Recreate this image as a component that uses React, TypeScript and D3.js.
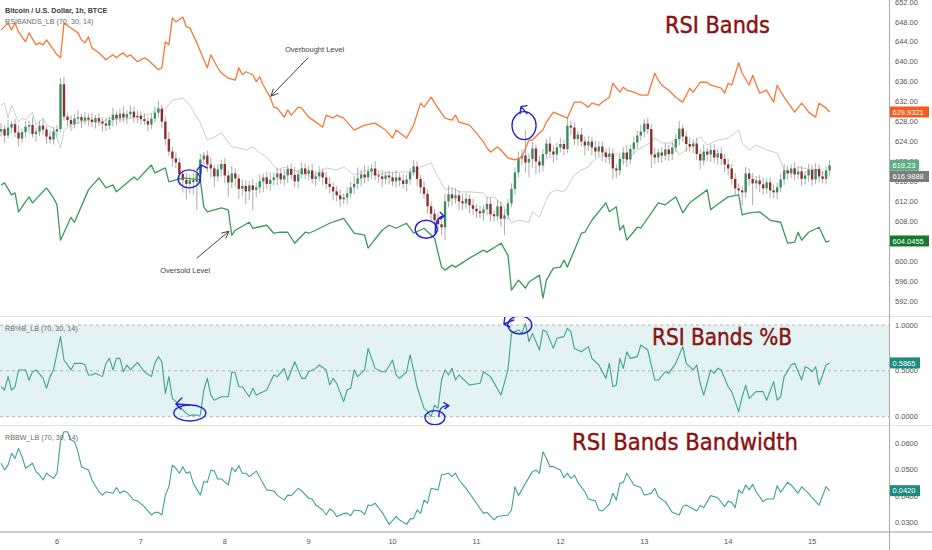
import React from 'react';
import * as d3 from 'd3';

// ---------- DATA ----------
// hours relative to 6th 00:00, one candle per hour
const dayLabels = ['6', '7', '8', '9', '10', '11', '12', '13', '14', '15'];
const firstHour = -16;
const firstOpen = 626.0;
const closes = [
  626.5, 625.2, 626.8, 627.5, 625.8, 624.6, 625.9, 627.0, 627.3, 625.5, 626.0, 627.2, 626.4, 625.0, 624.4, 626.0,
  626.5, 635.5, 629.0, 628.3, 627.5, 628.6, 628.9, 628.2, 628.8, 628.4, 627.9, 628.7, 628.0, 627.6, 627.2, 628.3, 629.4, 628.6, 629.6, 628.8, 629.5, 630.0, 628.9, 629.2,
  628.5, 628.1, 627.4, 628.6, 629.8, 630.6, 628.0, 624.5, 622.0, 620.6, 619.8, 617.5, 616.3, 615.5, 616.2, 615.9, 617.5, 620.4, 621.2, 619.4, 618.6, 617.0, 618.4, 619.5,
  617.2, 615.8, 617.6, 616.6, 614.5, 615.1, 614.0, 615.2, 614.3, 614.8, 616.0, 616.8, 615.5, 616.3, 616.8, 617.6, 616.4, 617.2, 618.5, 617.3, 616.0, 617.4, 618.6, 617.5,
  618.2, 616.5, 617.0, 617.8, 616.8, 615.5, 614.9, 614.0, 613.2, 612.4, 612.8, 613.6, 614.8, 615.5, 616.6, 617.4, 616.8, 618.0, 618.6, 617.2, 617.0, 616.5, 617.2, 616.8,
  616.0, 616.8, 616.2, 615.5, 616.4, 617.8, 619.0, 616.5, 614.8, 613.5, 611.0, 609.5, 608.2, 607.4, 606.8, 612.0, 613.4, 612.6, 613.2, 612.0, 611.6, 612.5, 611.2, 610.5,
  610.0, 609.6, 610.4, 611.5, 609.4, 609.0, 611.0, 608.5, 609.2, 611.6, 614.5, 617.8, 620.6, 621.2, 619.8, 620.5, 622.6, 620.0, 619.2, 621.5, 623.6, 622.0, 621.4, 622.8,
  623.5, 622.5, 627.2, 626.8, 624.5, 625.4, 624.0, 623.2, 624.0, 622.8, 622.0, 623.0, 621.8, 620.9, 621.6, 618.6, 618.2, 620.5, 621.8, 620.4, 622.5, 623.8, 625.2, 626.0,
  627.6, 626.5, 621.4, 620.8, 621.8, 621.2, 622.4, 621.5, 622.8, 624.5, 626.6, 625.0, 623.5, 623.0, 623.6, 621.5, 620.2, 622.0, 621.4, 622.3, 620.8, 621.6, 620.5, 619.4,
  618.6, 616.5, 614.6, 614.2, 613.8, 617.6, 616.5, 615.6, 616.2, 615.4, 614.6, 615.8, 614.2, 613.8, 614.8, 616.4, 618.2, 617.6, 618.6, 617.4, 618.0, 616.5, 617.2, 618.3,
  616.4, 618.5, 617.0, 616.5, 618.2, 619.23,
];
const upperWicks = [
  1.2, 0.8, 1.5, 0.6, 1.0, 1.4, 0.7, 1.1, 0.9, 1.6, 0.8, 1.0, 1.3, 0.6, 1.2, 0.9,
  0.8, 1.2, 1.5, 0.6, 1.0, 0.9, 1.4, 0.7, 1.1, 0.8, 1.3, 0.6, 1.0, 0.9, 1.2, 0.8, 1.4, 0.7, 1.0, 1.5, 0.8, 1.2, 0.9, 1.1,
  0.9, 1.2, 0.8, 1.0, 1.3, 1.6, 0.8, 1.0, 1.4, 0.9, 1.2, 1.0, 0.8, 1.3, 1.1, 1.5, 0.9, 1.2, 0.7, 1.0, 1.4, 0.8, 1.1, 0.9,
  1.2, 0.9, 1.5, 1.0, 0.8, 1.3, 1.1, 0.9, 1.2, 1.0, 1.4, 0.8, 1.1, 1.5, 0.9, 1.2, 1.0, 1.3, 0.8, 1.1, 1.6, 0.9, 1.2, 1.0,
  0.9, 1.3, 1.0, 1.2, 0.8, 1.1, 1.4, 0.9, 1.0, 1.2, 0.8, 1.3, 1.1, 1.6, 2.2, 1.0, 1.8, 1.2, 0.9, 1.5, 1.1, 1.3, 0.8, 1.0,
  1.1, 1.4, 0.8, 1.2, 1.0, 0.9, 1.3, 1.0, 0.8, 1.2, 0.9, 1.1, 1.0, 1.4, 0.8, 1.6, 1.8, 1.2, 1.4, 1.0, 1.5, 1.1, 0.9, 1.3,
  1.0, 1.2, 0.9, 1.4, 1.1, 0.8, 1.3, 1.0, 1.2, 0.9, 1.1, 1.0, 1.4, 1.2, 5.1, 1.0, 1.3, 0.8, 1.2, 1.0, 0.9, 1.4, 1.1, 1.0,
  1.2, 0.9, 1.5, 1.0, 1.1, 0.8, 1.3, 1.0, 1.2, 0.9, 1.4, 1.0, 1.1, 0.8, 1.2, 1.0, 0.9, 1.3, 1.1, 1.5, 0.8, 1.2, 1.0, 1.4,
  0.9, 1.2, 1.0, 1.4, 0.8, 1.1, 1.3, 0.9, 1.2, 1.0, 1.5, 0.8, 1.1, 1.3, 0.9, 1.2, 1.0, 1.4, 0.8, 1.1, 1.2, 0.9, 1.3, 1.0,
  1.1, 0.9, 1.2, 1.0, 0.8, 1.3, 1.0, 1.2, 0.9, 1.1, 1.4, 0.8, 1.0, 1.2, 0.9, 1.1, 1.3, 1.0, 0.8, 1.2, 1.0, 1.1, 0.9, 1.2,
  1.0, 1.2, 0.9, 1.1, 0.8, 1.0,
];
const lowerWicks = [
  1.0, 1.4, 0.6, 1.2, 0.9, 1.6, 0.8, 1.0, 1.3, 0.7, 1.5, 0.9, 1.1, 1.4, 0.8, 1.0,
  1.0, 0.6, 0.8, 1.2, 1.4, 0.9, 1.1, 1.5, 0.8, 1.2, 1.0, 1.3, 0.9, 1.6, 1.1, 0.8, 1.2, 1.4, 0.9, 1.0, 1.3, 0.8, 1.1, 1.2,
  1.1, 0.8, 1.3, 0.9, 0.7, 1.0, 1.4, 1.2, 0.9, 1.6, 1.1, 1.3, 2.5, 3.2, 2.0, 2.6, 5.7, 1.2, 0.9, 1.5, 1.8, 2.2, 1.0, 1.4,
  1.5, 2.9, 1.2, 1.6, 2.0, 1.4, 2.6, 1.8, 4.1, 1.5, 1.2, 2.2, 1.0, 1.4, 1.1, 1.6, 0.9, 1.3, 1.5, 1.0, 1.2, 1.4, 0.8, 1.1,
  1.2, 1.0, 1.4, 0.9, 1.6, 1.1, 1.3, 1.8, 1.2, 1.5, 1.0, 1.3, 0.9, 1.4, 1.1, 1.6, 1.2, 0.8, 1.5, 1.0, 1.3, 1.7, 1.1, 1.4,
  1.0, 1.3, 1.2, 0.9, 1.5, 1.1, 0.8, 1.4, 1.2, 1.0, 1.5, 1.3, 1.1, 1.6, 1.6, 2.6, 1.2, 1.5, 1.0, 1.8, 1.4, 1.1, 1.6, 1.2,
  1.3, 1.0, 1.5, 1.2, 1.4, 1.1, 0.9, 1.6, 3.3, 1.0, 0.8, 1.2, 1.0, 1.3, 2.0, 3.0, 1.8, 2.6, 1.5, 1.2, 1.0, 1.4, 1.6, 1.1,
  1.0, 1.3, 0.8, 1.5, 1.2, 1.4, 1.0, 2.0, 1.1, 1.6, 1.3, 1.0, 1.8, 1.2, 1.4, 2.2, 1.6, 1.0, 1.2, 1.5, 0.9, 1.1, 1.3, 1.0,
  1.2, 1.0, 2.7, 1.3, 1.1, 1.5, 1.0, 1.4, 1.2, 0.9, 1.3, 1.1, 1.6, 1.0, 1.4, 1.2, 1.8, 1.0, 1.3, 1.5, 1.1, 1.4, 1.2, 1.6,
  1.4, 1.2, 1.5, 1.0, 2.6, 1.2, 1.4, 4.4, 1.1, 1.6, 1.3, 1.0, 1.5, 1.2, 1.4, 1.0, 1.1, 1.3, 0.9, 1.2, 1.0, 1.4, 1.1, 1.3,
  1.3, 1.0, 1.2, 0.9, 1.1, 1.0,
];

// [hour, value] vertices
const upperBand: [number, number][] = [
  [-16, 646.4], [-14, 647.8], [-13, 646.4], [-12, 647.8], [-11, 646.0], [-9, 644.0], [-8, 645.8], [-6, 643.4], [-5, 643.8], [-4, 643.4], [-3, 644.4], [-1, 642.4],
  [0, 641.4], [1, 640.8], [2, 647.8], [4, 646.8], [6, 645.8], [7, 644.4], [8, 643.8], [9, 645.0], [10, 642.8], [12, 641.8], [14, 640.4], [16, 641.4], [17, 640.8],
  [18, 641.4], [19, 641.8], [20, 641.0], [21, 641.4], [23, 640.0], [25, 640.8], [26, 640.4], [29, 638.4], [30, 638.8], [31, 644.0], [32, 643.4], [33, 648.8],
  [34, 648.0], [36, 649.0], [37, 647.0], [38, 646.8], [40, 643.8], [42, 640.4], [43, 638.8], [44, 641.4], [46, 638.8], [47, 637.8], [49, 636.7], [51, 636.3],
  [52, 638.8], [53, 637.4], [54, 638.0], [56, 637.4], [57, 636.0], [58, 637.0], [59, 635.3], [61, 632.9], [62, 630.9], [63, 630.7], [65, 628.9], [66, 630.3],
  [67, 629.3], [69, 630.9], [70, 630.7], [72, 628.9], [76, 626.9], [77, 629.3], [79, 628.7], [80, 629.3], [82, 628.7], [85, 626.3], [88, 627.3], [91, 627.7],
  [94, 626.3], [96, 624.7], [97, 626.3], [100, 624.7], [102, 627.3], [104, 631.7], [105, 630.9], [107, 632.9], [109, 630.7], [111, 628.7], [113, 628.3],
  [114, 629.3], [115, 627.9], [118, 627.3], [120, 625.7], [122, 623.9], [123, 622.7], [124, 621.9], [126, 622.9], [127, 622.3], [129, 620.7], [131, 620.3],
  [133, 620.9], [135, 624.3], [136, 624.3], [138, 625.7], [139, 626.3], [140, 627.9], [142, 629.9], [144, 629.3], [146, 628.7], [148, 631.9], [150, 631.9],
  [152, 630.9], [153, 631.7], [155, 631.3], [156, 631.9], [158, 632.9], [159, 635.7], [161, 633.9], [162, 634.9], [163, 634.3], [165, 633.9], [167, 633.3],
  [169, 633.3], [171, 637.7], [172, 636.3], [173, 635.3], [175, 634.3], [177, 632.9], [179, 631.9], [181, 634.7], [182, 633.9], [184, 635.9], [186, 635.9],
  [187, 635.3], [190, 634.7], [191, 633.7], [192, 635.7], [193, 635.3], [195, 639.8], [196, 637.7], [198, 635.3], [199, 637.3], [201, 633.7], [203, 634.3],
  [205, 631.9], [206, 635.3], [208, 632.9], [211, 629.9], [213, 631.7], [214, 630.9], [215, 629.9], [217, 628.9], [218, 631.7], [220, 630.7], [221, 629.9321],
];
const lowerBand: [number, number][] = [
  [-16, 615.3], [-15, 615.7], [-13, 613.3], [-12, 613.7], [-11, 609.9], [-8, 612.9], [-7, 611.7], [-3, 614.7], [-1, 612.7], [0, 611.3], [1, 604.2], [4, 608.8],
  [5, 607.8], [9, 614.3], [12, 616.7], [14, 614.7], [16, 615.3], [17, 613.9], [20, 615.7], [22, 616.9], [23, 616.3], [27, 619.3], [28, 617.7], [31, 618.7],
  [32, 615.9], [36, 616.7], [41, 616.3], [42, 610.9], [43, 609.9], [47, 610.7], [49, 610.3], [50, 605.2], [51, 606.2], [55, 607.8], [56, 606.6], [60, 607.2],
  [62, 605.6], [64, 605.8], [66, 605.8], [68, 603.6], [71, 605.8], [72, 605.6], [74, 606.2], [78, 607.6], [82, 608.6], [85, 605.6], [88, 605.2], [89, 602.6],
  [93, 606.2], [95, 607.2], [97, 606.6], [100, 607.6], [102, 605.6], [105, 606.6], [108, 604.6], [110, 598.8], [111, 598.2], [113, 599.2], [114, 598.8],
  [118, 600.6], [122, 602.2], [123, 601.8], [127, 603.6], [129, 601.2], [130, 594.2], [132, 596.2], [134, 594.6], [135, 595.8], [138, 597.2], [139, 592.6],
  [140, 596.2], [142, 598.6], [144, 598.8], [145, 600.2], [146, 598.8], [150, 605.6], [151, 605.8], [153, 608.2], [157, 611.7], [158, 609.9], [160, 610.9],
  [161, 606.2], [162, 607.2], [163, 604.2], [166, 606.8], [167, 606.6], [172, 611.7], [174, 611.3], [177, 612.9], [179, 609.7], [181, 611.7], [186, 614.3],
  [187, 610.3], [188, 610.9], [192, 612.9], [195, 613.3], [196, 609.3], [198, 609.7], [201, 609.9], [204, 608.2], [207, 607.8], [209, 603.6], [211, 603.8],
  [212, 605.8], [213, 604.2], [215, 605.8], [218, 606.8], [220, 603.8], [221, 604.0455],
];
const midLine: [number, number][] = [
  [-16, 631.3], [-15, 631.7], [-14, 628.7], [-13, 631.3], [-11, 627.9], [-10, 628.7], [-9, 628.3], [-7, 629.9], [-6, 627.3], [-4, 628.7], [-3, 627.3],
  [-1, 626.7], [1, 622.7], [2, 626.3], [4, 627.3], [7, 627.9], [9, 628.3], [12, 627.7], [15, 628.7], [18, 628.3], [21, 628.7], [24, 628.9], [27, 629.7],
  [29, 630.9], [30, 629.7], [33, 632.3], [36, 632.7], [38, 631.3], [41, 627.7], [43, 624.3], [45, 624.9], [47, 625.7], [50, 622.9], [52, 622.7], [54, 622.3],
  [56, 622.9], [58, 621.7], [60, 620.9], [63, 618.3], [65, 618.9], [70, 617.7], [73, 616.9], [77, 618.7], [80, 618.3], [82, 618.9], [85, 617.3], [89, 618.3],
  [91, 617.3], [94, 617.7], [99, 617.9], [102, 617.9], [104, 618.9], [107, 619.7], [109, 616.9], [111, 614.3], [113, 614.7], [115, 613.9], [118, 613.9],
  [122, 613.7], [123, 612.7], [125, 612.9], [128, 610.9], [130, 607.7], [132, 608.2], [135, 607.8], [136, 609.9], [138, 608.8], [140, 612.3], [141, 613.7],
  [143, 614.3], [145, 613.9], [146, 614.9], [148, 617.3], [150, 618.3], [152, 618.9], [153, 619.9], [155, 620.9], [157, 621.7], [158, 620.3], [160, 621.7],
  [162, 619.7], [164, 620.9], [166, 622.3], [170, 623.9], [171, 624.7], [173, 623.7], [176, 623.7], [178, 621.3], [181, 622.9], [184, 624.9], [186, 623.3],
  [189, 624.3], [192, 624.7], [195, 626.3], [196, 623.7], [198, 622.3], [200, 623.3], [203, 622.3], [206, 621.7], [208, 618.3], [210, 617.9], [212, 618.9],
  [213, 618.7], [217, 618.3], [221, 616.9888],
];
const percentB: [number, number][] = [
  [-16, 0.327], [-15, 0.291], [-14, 0.437], [-13, 0.291], [-12, 0.327], [-11, 0.51], [-9, 0.51], [-8, 0.40], [-7, 0.49], [-6, 0.51], [-4, 0.42], [-3, 0.31],
  [-2, 0.437], [-1, 0.51], [1, 0.873], [2, 0.618], [4, 0.51], [5, 0.582], [7, 0.582], [8, 0.564], [9, 0.455], [10, 0.455], [11, 0.473], [13, 0.437], [14, 0.582],
  [15, 0.636], [16, 0.51], [17, 0.636], [18, 0.636], [19, 0.49], [20, 0.564], [21, 0.51], [23, 0.593], [25, 0.49], [27, 0.437], [28, 0.582], [29, 0.655],
  [30, 0.60], [31, 0.254], [32, 0.437], [33, 0.20], [34, 0.164], [36, 0.073], [37, 0.036], [38, 0.01], [39, 0.02], [40, 0.015], [41, 0.018], [42, 0.291],
  [43, 0.418], [44, 0.236], [45, 0.18], [47, 0.218], [49, 0.218], [50, 0.49], [51, 0.473], [52, 0.327], [53, 0.327], [55, 0.218], [56, 0.31], [57, 0.236],
  [59, 0.273], [60, 0.291], [62, 0.455], [63, 0.437], [65, 0.527], [66, 0.40], [68, 0.60], [70, 0.418], [71, 0.418], [72, 0.49], [74, 0.527], [75, 0.564],
  [77, 0.51], [78, 0.345], [79, 0.418], [80, 0.364], [82, 0.164], [83, 0.291], [84, 0.31], [85, 0.51], [86, 0.437], [88, 0.51], [89, 0.745], [91, 0.527],
  [93, 0.49], [94, 0.49], [96, 0.618], [97, 0.455], [98, 0.418], [100, 0.49], [101, 0.673], [102, 0.51], [103, 0.327], [105, 0.09], [106, 0.055], [107, 0.0],
  [108, 0.127], [109, 0.09], [110, 0.40], [111, 0.51], [112, 0.455], [113, 0.527], [114, 0.40], [115, 0.455], [118, 0.345], [121, 0.364], [122, 0.49],
  [124, 0.437], [127, 0.236], [129, 0.51], [130, 0.909], [132, 0.946], [133, 0.909], [134, 1.018], [135, 0.818], [136, 0.909], [138, 0.727], [139, 0.946],
  [140, 0.927], [142, 0.745], [143, 0.855], [145, 0.873], [146, 0.964], [147, 0.927], [148, 0.745], [150, 0.709], [152, 0.764], [153, 0.636], [155, 0.564],
  [157, 0.418], [158, 0.582], [159, 0.327], [160, 0.345], [161, 0.636], [162, 0.527], [163, 0.709], [164, 0.636], [166, 0.655], [167, 0.782], [169, 0.727],
  [171, 0.40], [172, 0.40], [174, 0.49], [175, 0.473], [177, 0.582], [179, 0.764], [180, 0.582], [182, 0.51], [183, 0.564], [184, 0.364], [185, 0.236],
  [187, 0.51], [188, 0.473], [189, 0.527], [190, 0.51], [192, 0.327], [193, 0.273], [195, 0.055], [196, 0.218], [197, 0.345], [198, 0.20], [200, 0.273],
  [202, 0.273], [203, 0.18], [205, 0.382], [206, 0.18], [207, 0.218], [208, 0.437], [210, 0.564], [211, 0.582], [213, 0.40], [214, 0.545], [215, 0.527],
  [216, 0.49], [217, 0.545], [218, 0.345], [220, 0.564], [221, 0.5865],
];
const bandwidth: [number, number][] = [
  [-16, 0.0525], [-15, 0.0499], [-14, 0.0518], [-13, 0.0563], [-12, 0.0544], [-11, 0.0582], [-10, 0.0550], [-9, 0.0506], [-7, 0.0525], [-6, 0.0493],
  [-5, 0.0480], [-4, 0.0461], [-3, 0.0487], [-1, 0.0467], [0, 0.0487], [1, 0.0608], [2, 0.0646], [3, 0.0646], [4, 0.0614], [5, 0.0608], [6, 0.0569],
  [7, 0.0512], [9, 0.0499], [10, 0.0461], [12, 0.0416], [13, 0.0403], [14, 0.0416], [16, 0.0410], [17, 0.0432], [18, 0.0410], [19, 0.0419], [20, 0.0414],
  [22, 0.0384], [23, 0.0381], [25, 0.0359], [27, 0.0327], [28, 0.0337], [29, 0.0337], [30, 0.0327], [31, 0.0403], [32, 0.0435], [33, 0.0518], [34, 0.0506],
  [35, 0.0487], [36, 0.0512], [37, 0.0487], [38, 0.0493], [39, 0.0448], [41, 0.0403], [42, 0.0455], [43, 0.0452], [44, 0.0499], [45, 0.0495], [46, 0.0465],
  [47, 0.0465], [49, 0.0442], [50, 0.0508], [51, 0.0493], [52, 0.0516], [53, 0.0487], [54, 0.0487], [55, 0.0474], [57, 0.0495], [60, 0.0423], [62, 0.0419],
  [63, 0.0403], [65, 0.0384], [66, 0.0403], [67, 0.0401], [69, 0.0429], [70, 0.0419], [72, 0.0391], [73, 0.0388], [74, 0.0365], [76, 0.0346], [77, 0.0327],
  [78, 0.0350], [79, 0.0342], [80, 0.0320], [82, 0.0333], [83, 0.0334], [84, 0.0324], [85, 0.0346], [87, 0.0342], [88, 0.0329], [89, 0.0365], [90, 0.0363],
  [91, 0.0372], [93, 0.0337], [95, 0.0291], [97, 0.0321], [98, 0.0308], [100, 0.0291], [101, 0.0311], [102, 0.0314], [103, 0.0346], [104, 0.0333],
  [105, 0.0384], [106, 0.0372], [107, 0.0429], [109, 0.0423], [110, 0.0480], [112, 0.0487], [113, 0.0474], [114, 0.0487], [115, 0.0461], [117, 0.0429],
  [119, 0.0391], [122, 0.0333], [123, 0.0337], [125, 0.0308], [126, 0.0321], [129, 0.0327], [130, 0.0346], [131, 0.0435], [132, 0.0401], [134, 0.0448],
  [136, 0.0493], [137, 0.0499], [138, 0.0487], [139, 0.0569], [140, 0.0544], [141, 0.0512], [142, 0.0512], [144, 0.0499], [145, 0.0470], [146, 0.0487],
  [147, 0.0467], [148, 0.0480], [149, 0.0452], [151, 0.0416], [152, 0.0388], [154, 0.0381], [155, 0.0346], [156, 0.0342], [158, 0.0368], [159, 0.0410],
  [160, 0.0384], [161, 0.0448], [162, 0.0452], [163, 0.0487], [165, 0.0442], [167, 0.0432], [168, 0.0403], [170, 0.0410], [171, 0.0429], [172, 0.0397],
  [174, 0.0378], [176, 0.0337], [178, 0.0327], [179, 0.0359], [180, 0.0365], [183, 0.0342], [184, 0.0363], [185, 0.0355], [187, 0.0401], [189, 0.0393],
  [191, 0.0359], [192, 0.0380], [193, 0.0375], [194, 0.0355], [195, 0.0423], [196, 0.0410], [197, 0.0442], [198, 0.0423], [199, 0.0444], [200, 0.0416],
  [202, 0.0378], [203, 0.0388], [205, 0.0388], [206, 0.0439], [207, 0.0414], [209, 0.0452], [210, 0.0442], [212, 0.0410], [213, 0.0435], [215, 0.0410],
  [216, 0.0393], [218, 0.0365], [220, 0.0435], [221, 0.0420],
];

const priceTicks = [592, 596, 600, 604, 608, 612, 616, 620, 624, 628, 632, 636, 640, 644, 648, 652];
const pctTicks = [0, 0.5, 1];
const bwTicks = [0.03, 0.04, 0.05, 0.06];

// hand-drawn annotation anchors (hour, value)
const topCircles = [
  { h: 37.8, v: 616.5, rx: 11, ry: 9, mark: 'M11,3 L12,-13 M8,-9 L12,-14 L18,-11' },
  { h: 105.6, v: 606.4, rx: 11, ry: 9, mark: 'M9,4 C9,-6 11,-13 18,-13 M14,-17 L18,-13 L14,-10' },
  { h: 133.6, v: 627.2, rx: 12, ry: 14, mark: 'M3,-12 L-3,-19 M-3,-19 L-4,-12 M-3,-19 L3,-20' },
];
const pctCircles = [
  { h: 38, v: 0.04, rx: 16, ry: 8, mark: 'M0,-8 L-14,-9 M-14,-9 L-8,-15 M-14,-9 L-9,-4' },
  { h: 108.1, v: -0.01, rx: 10, ry: 7, mark: 'M4,-1 C4,-8 6,-12 13,-12 M9,-15 L14,-12 L10,-9' },
  { h: 132.4, v: 1.0, rx: 12, ry: 9, mark: 'M-6,-5 L-16,-1 M-16,-1 L-15,-8 M-16,-1 L-10,2' },
];
const overbought = { text: 'Overbought Level', tx: 65.2, tv: 642.0, from: [71.8, 640.8], to: [61.2, 633.1] };
const oversold = { text: 'Oversold Level', tx: 29.5, tv: 597.6, from: [40, 600.6], to: [49.2, 606.0] };

// ---------- CHART ----------
const W = 932;
const H = 550;
const AXIS_X = 889;

export default function App() {
  const x = d3.scaleLinear().domain([0, 216]).range([57, 812.1]);
  const yP = d3.scaleLinear().domain([592, 652]).range([301, 2]);
  const yB = d3.scaleLinear().domain([0, 1]).range([416.7, 325]);
  const yW = d3.scaleLinear().domain([0.03, 0.06]).range([522, 443.7]);

  const lineP = d3.line<[number, number]>().x(d => x(d[0])).y(d => yP(d[1]));
  const lineB = d3.line<[number, number]>().x(d => x(d[0])).y(d => yB(d[1]));
  const lineW = d3.line<[number, number]>().x(d => x(d[0])).y(d => yW(d[1]));

  const candles = closes.map((c, i) => {
    const o = i === 0 ? firstOpen : closes[i - 1];
    const hi = Math.max(o, c) + (upperWicks[i] ?? 1);
    const lo = Math.min(o, c) - (lowerWicks[i] ?? 1);
    return { h: firstHour + i, o, c, hi, lo };
  });

  const axisFont = '"Liberation Sans", Arial, sans-serif';
  const titleFont = '"DejaVu Sans", Verdana, sans-serif';
  const titleColor = '#8a1212';
  const green = '#3c8d5f';
  const red = '#8f2e2e';
  const teal = '#3fa293';
  const blue = '#2424cc';

  const tag = (y: number, text: string, bg: string, w: number) => (
    <g key={text}>
      <rect x={AXIS_X + 1} y={y - 5.5} width={w} height={11} fill={bg} />
      <text x={AXIS_X + 3.5} y={y + 2.6} fontSize={7.5} fill="#fff" fontFamily={axisFont}>{text}</text>
    </g>
  );

  return (
    <div style={{ position: 'absolute', left: 0, top: 0, width: W, height: H, background: '#fff' }}>
      <svg width={W} height={H} style={{ display: 'block' }}>
        <defs>
          <clipPath id="cTop"><rect x={0} y={0} width={AXIS_X} height={316} /></clipPath>
          <clipPath id="cMid"><rect x={0} y={317} width={AXIS_X} height={108} /></clipPath>
          <clipPath id="cBot"><rect x={0} y={426} width={AXIS_X} height={106} /></clipPath>
        </defs>
        <rect x={0} y={0} width={W} height={H} fill="#fff" />

        {/* ---- top panel ---- */}
        <g clipPath="url(#cTop)">
          <path d={lineP(midLine) ?? ''} fill="none" stroke="#c6c6c6" strokeWidth={0.9} />
          {candles.map(k => (
            <g key={k.h}>
              <line x1={x(k.h)} x2={x(k.h)} y1={yP(k.hi)} y2={yP(k.lo)} stroke="#a3a3a3" strokeWidth={0.9} />
              <rect
                x={x(k.h) - 1.2}
                width={2.4}
                y={yP(Math.max(k.o, k.c))}
                height={Math.max(0.9, Math.abs(yP(k.o) - yP(k.c)))}
                fill={k.c >= k.o ? green : red}
              />
            </g>
          ))}
          <path d={lineP(upperBand) ?? ''} fill="none" stroke="#f5793b" strokeWidth={1.3} strokeLinejoin="round" />
          <path d={lineP(lowerBand) ?? ''} fill="none" stroke="#3b9a5c" strokeWidth={1.3} strokeLinejoin="round" />

          {topCircles.map((a, i) => (
            <g key={i} transform={`translate(${x(a.h)},${yP(a.v)})`} fill="none" stroke={blue} strokeWidth={1.4}>
              <ellipse cx={0} cy={0} rx={a.rx} ry={a.ry} />
              <path d={a.mark} strokeLinecap="round" strokeLinejoin="round" />
            </g>
          ))}

          {[overbought, oversold].map((a, i) => {
            const x1 = x(a.from[0]), y1 = yP(a.from[1]);
            const x2 = x(a.to[0]), y2 = yP(a.to[1]);
            const ang = Math.atan2(y2 - y1, x2 - x1);
            const L = 8;
            const p1 = [x2 - L * Math.cos(ang - 0.45), y2 - L * Math.sin(ang - 0.45)];
            const p2 = [x2 - L * Math.cos(ang + 0.45), y2 - L * Math.sin(ang + 0.45)];
            return (
              <g key={i}>
                <line x1={x1} y1={y1} x2={x2} y2={y2} stroke="#444" strokeWidth={1} />
                <path d={`M${p1[0]},${p1[1]} L${x2},${y2} L${p2[0]},${p2[1]}`} fill="none" stroke="#444" strokeWidth={1} />
                <text x={x(a.tx)} y={yP(a.tv)} fontSize={7.5} fill="#444" fontFamily={axisFont}>{a.text}</text>
              </g>
            );
          })}
        </g>
        <text x={5} y={13} fontSize={7.2} fontWeight={600} fill="#3a3a3a" fontFamily={axisFont}>Bitcoin / U.S. Dollar, 1h, BTCE</text>
        <text x={5} y={24} fontSize={7.2} fill="#6a6a6a" fontFamily={axisFont}>RSIBANDS_LB (70, 30, 14)</text>
        <text x={665} y={33} fontSize={23} fill={titleColor} stroke={titleColor} strokeWidth={0.45} fontFamily={titleFont} textLength={105} lengthAdjust="spacingAndGlyphs">RSI Bands</text>

        {/* ---- %B panel ---- */}
        <g clipPath="url(#cMid)">
          <rect x={0} y={yB(1)} width={AXIS_X} height={yB(0) - yB(1)} fill="#e3f2f2" />
          {pctTicks.map(t => (
            <line key={t} x1={0} x2={AXIS_X} y1={yB(t)} y2={yB(t)} stroke="#a3a3a3" strokeWidth={0.8} strokeDasharray="3,3" />
          ))}
          <path d={lineB(percentB) ?? ''} fill="none" stroke={teal} strokeWidth={1.1} strokeLinejoin="round" />
          {pctCircles.map((a, i) => (
            <g key={i} transform={`translate(${x(a.h)},${yB(a.v)})`} fill="none" stroke={blue} strokeWidth={1.4}>
              <ellipse cx={0} cy={0} rx={a.rx} ry={a.ry} />
              <path d={a.mark} strokeLinecap="round" strokeLinejoin="round" />
            </g>
          ))}
        </g>
        <text x={5} y={331} fontSize={7.2} fill="#6a6a6a" fontFamily={axisFont}>RB%B_LB (70, 30, 14)</text>
        <text x={652} y={345} fontSize={23} fill={titleColor} stroke={titleColor} strokeWidth={0.45} fontFamily={titleFont} textLength={140} lengthAdjust="spacingAndGlyphs">RSI Bands %B</text>

        {/* ---- bandwidth panel ---- */}
        <g clipPath="url(#cBot)">
          <path d={lineW(bandwidth) ?? ''} fill="none" stroke={teal} strokeWidth={1.1} strokeLinejoin="round" />
        </g>
        <text x={5} y={440} fontSize={7.2} fill="#6a6a6a" fontFamily={axisFont}>RBBW_LB (70, 30, 14)</text>
        <text x={572} y={450} fontSize={23} fill={titleColor} stroke={titleColor} strokeWidth={0.45} fontFamily={titleFont} textLength={226} lengthAdjust="spacingAndGlyphs">RSI Bands Bandwidth</text>

        {/* ---- separators ---- */}
        <line x1={0} x2={W} y1={316.5} y2={316.5} stroke="#e2e2e2" />
        <line x1={0} x2={W} y1={425.5} y2={425.5} stroke="#e2e2e2" />
        <line x1={0} x2={W} y1={532} y2={532} stroke="#9a9a9a" />
        <line x1={AXIS_X + 0.5} x2={AXIS_X + 0.5} y1={0} y2={H} stroke="#a8a8a8" />

        {/* ---- axes ---- */}
        {priceTicks.map(t => (
          <text key={t} x={AXIS_X + 6} y={yP(t) + 2.6} fontSize={7.5} fill="#555" fontFamily={axisFont}>{t.toFixed(2)}</text>
        ))}
        {pctTicks.map(t => (
          <text key={t} x={AXIS_X + 6} y={yB(t) + 2.6} fontSize={7.5} fill="#555" fontFamily={axisFont}>{t.toFixed(4)}</text>
        ))}
        {bwTicks.map(t => (
          <text key={t} x={AXIS_X + 6} y={yW(t) + 2.6} fontSize={7.5} fill="#555" fontFamily={axisFont}>{t.toFixed(4)}</text>
        ))}
        {dayLabels.map((d, i) => (
          <text key={d} x={x(i * 24)} y={544} fontSize={7.5} fill="#555" textAnchor="middle" fontFamily={axisFont}>{d}</text>
        ))}

        {/* ---- last value tags ---- */}
        {tag(yP(629.9321), '629.9321', '#f55a1e', 39)}
        {tag(yP(619.23), '619.23', '#5fae86', 29)}
        {tag(yP(616.9888), '616.9888', '#7c7c7c', 39)}
        {tag(yP(604.0455), '604.0455', '#137a2e', 39)}
        {tag(yB(0.5865), '0.5865', '#1d8c80', 30)}
        {tag(yW(0.042), '0.0420', '#1d8c80', 30)}
      </svg>
    </div>
  );
}
